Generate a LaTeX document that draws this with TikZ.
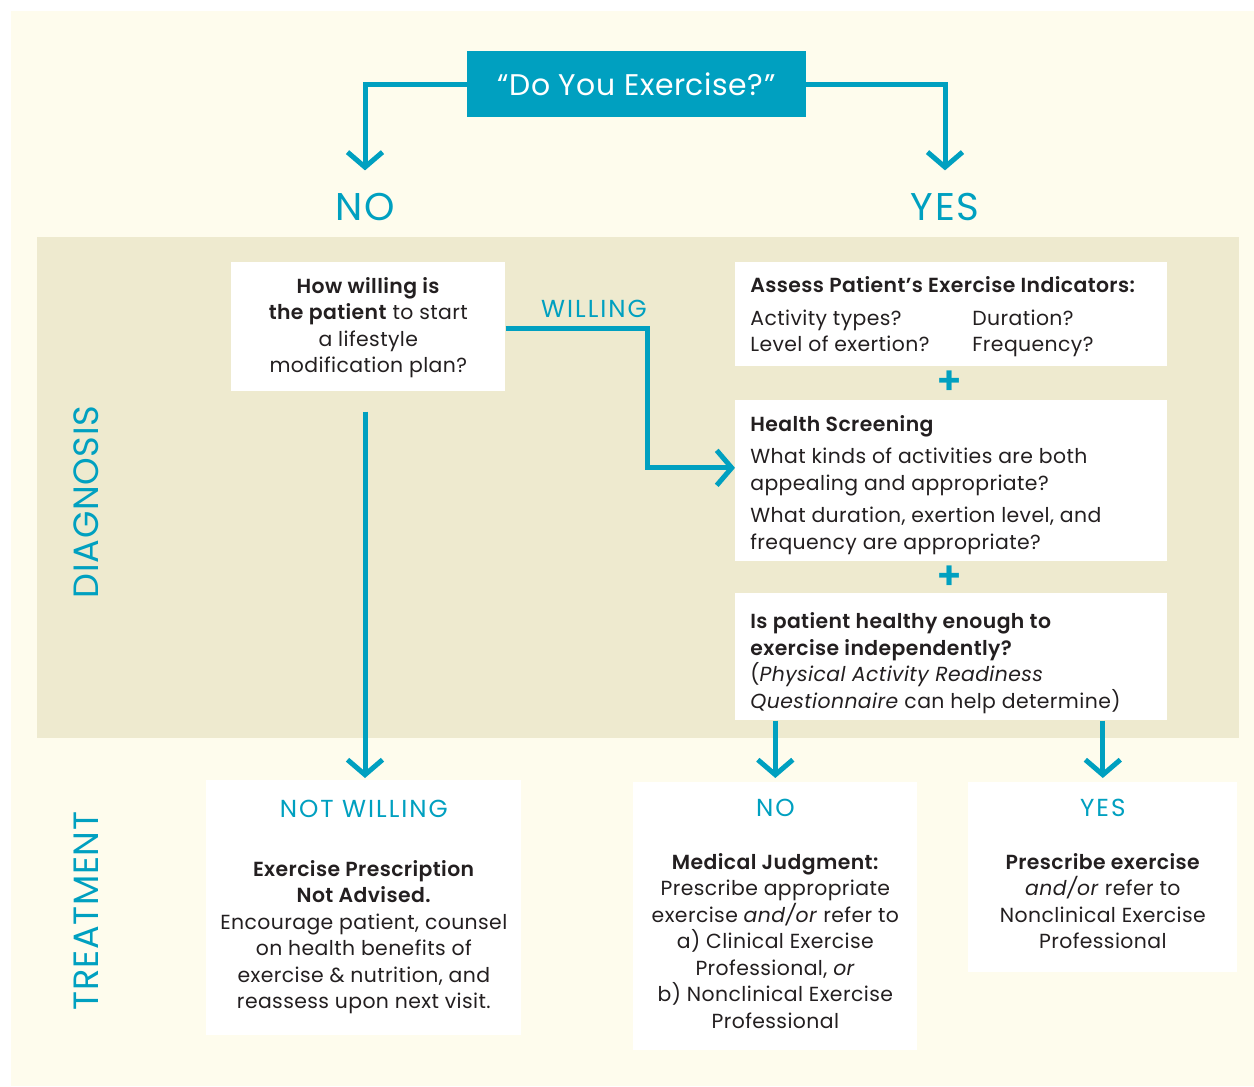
\documentclass[tikz,border=0pt]{standalone}
\usepackage{fontspec}
\setmainfont{Poppins}[BoldFont={Poppins SemiBold}, LetterSpace=2]
\usetikzlibrary{arrows.meta,positioning}
\definecolor{exteal}{RGB}{0,160,192}
\definecolor{paper}{RGB}{254,252,237}
\definecolor{band}{RGB}{238,234,207}
\definecolor{ink}{RGB}{35,31,32}
\newcommand{\bodyfont}{\fontsize{11.6}{15.1}\selectfont}
\newcommand{\labfont}{\fontsize{14}{16}\selectfont\addfontfeature{LetterSpace=8}}

\begin{document}
\begin{tikzpicture}
[x=0.02cm, y=-0.02cm,
askbox/.style={fill=exteal, text=white, inner sep=0, font=\fontsize{17}{20}\selectfont},
toplabel/.style={text=exteal, inner sep=0, anchor=base, font=\fontsize{22}{24}\selectfont\addfontfeature{LetterSpace=4}},
sidelabel/.style={text=exteal, inner sep=0, rotate=90, font=\fontsize{20}{22}\selectfont},
steplabel/.style={text=exteal, inner sep=0, font=\labfont},
panel/.style={fill=white, anchor=north west, inner sep=0},
paneltext/.style={text=ink, inner sep=0, align=left, font=\bodyfont},
resulttext/.style={text=ink, inner sep=0, align=center, font=\bodyfont},
plussign/.style={text=exteal, inner sep=0, font=\fontsize{22}{24}\selectfont\bfseries},
flow/.style={draw=exteal, line width=0.1cm, -{Straight Barb[length=0.3cm,width=0.7cm]}}]
\useasboundingbox (0,0) rectangle (1254,1086);
\fill[white] (0,0) rectangle (1254,1086);
\fill[paper] (11,11) rectangle (1254,1086);
\fill[band] (37,237) rectangle (1239,738);
%%
\node (ask) [askbox, minimum width=6.78cm, minimum height=1.32cm] at (636.5,84) {“Do You Exercise?”};
\node (nolab) [toplabel] at (365,220) {NO};
\node (yeslab) [toplabel] at (945,220) {YES};
\draw[flow, shorten >=0.44cm] (ask.west) -| (nolab);
\draw[flow, shorten >=0.44cm] (ask.east) -| (yeslab);
%%
\node (diag) [sidelabel] at (86,502) {DIAGNOSIS};
\node (treat) [sidelabel] at (86,911) {TREATMENT};
%%
\node (will) [panel, minimum width=5.48cm, minimum height=2.58cm] at (231,262) {};
\node (willtxt) [resulttext, below=0.3cm of will.north]
  {\textbf{How willing is}\\\textbf{the patient} to start\\a lifestyle\\modification plan?};
\node (assess) [panel, minimum width=8.64cm, minimum height=2.08cm] at (735,262) {};
\node (assesstxt) [paneltext, below right=0.29cm and 0.3cm of assess.north west]
  {\textbf{Assess Patient’s Exercise Indicators:}\\[3.4pt]
   \makebox[4.44cm][l]{Activity types?}Duration?\\
   \makebox[4.44cm][l]{Level of exertion?}Frequency?};
\node (plus1) [plussign] at (950,383) {+};
\node (screen) [panel, minimum width=8.64cm, minimum height=3.22cm] at (735,400) {};
\node (screentxt) [paneltext, below right=0.3cm and 0.3cm of screen.north west]
  {\textbf{Health Screening}\\[3.4pt]
   What kinds of activities are both\\appealing and appropriate?\\[3.4pt]
   What duration, exertion level, and\\frequency are appropriate?};
\node (plus2) [plussign] at (950,578) {+};
\node (healthy) [panel, minimum width=8.64cm, minimum height=2.54cm] at (735,593) {};
\node (healthytxt) [paneltext, below right=0.39cm and 0.3cm of healthy.north west]
  {\textbf{Is patient healthy enough to}\\\textbf{exercise independently?}\\
   (\textit{Physical Activity Readiness}\\\textit{Questionnaire} can help determine)};
\coordinate (wbend) at (647,328);
\node (willlab) [steplabel, anchor=base] at (594,317) {WILLING};
\draw[flow] (will.east |- wbend) -- (wbend) |- ([yshift=0.26cm]screen.west);
%%
\node (notwill) [panel, minimum width=6.3cm, minimum height=5.1cm] at (206,780) {};
\node (medno) [panel, minimum width=5.68cm, minimum height=5.36cm] at (633,782) {};
\node (medyes) [panel, minimum width=5.38cm, minimum height=3.8cm] at (968,782) {};
\node (notwilllab) [steplabel, below=0.39cm of notwill.north] {NOT WILLING};
\node (notwilltxt) [resulttext, below=0.84cm of notwilllab]
  {\textbf{Exercise Prescription}\\\textbf{Not Advised.}\\Encourage patient, counsel\\on health benefits of\\exercise \& nutrition, and\\reassess upon next visit.};
\node (mednolab) [steplabel, below=0.33cm of medno.north] {NO};
\node (mednotxt) [resulttext, below=0.72cm of mednolab]
  {\textbf{Medical Judgment:}\\Prescribe appropriate\\exercise \textit{and/or} refer to\\a) Clinical Exercise\\Professional, \textit{or}\\b) Nonclinical Exercise\\Professional};
\node (medyeslab) [steplabel, below=0.33cm of medyes.north] {YES};
\node (medyestxt) [resulttext, below=0.72cm of medyeslab]
  {\textbf{Prescribe exercise}\\\textit{and/or} refer to\\Nonclinical Exercise\\Professional};
%%
\draw[flow, shorten <=0.4cm, shorten >=0.04cm] (will.south -| nolab) -- (nolab |- notwill.north);
\draw[flow, shorten >=0.08cm] (healthy.south -| medno.north) -- (medno.north);
\draw[flow, shorten >=0.08cm] (healthy.south -| medyes.north) -- (medyes.north);
\end{tikzpicture}
\end{document}
